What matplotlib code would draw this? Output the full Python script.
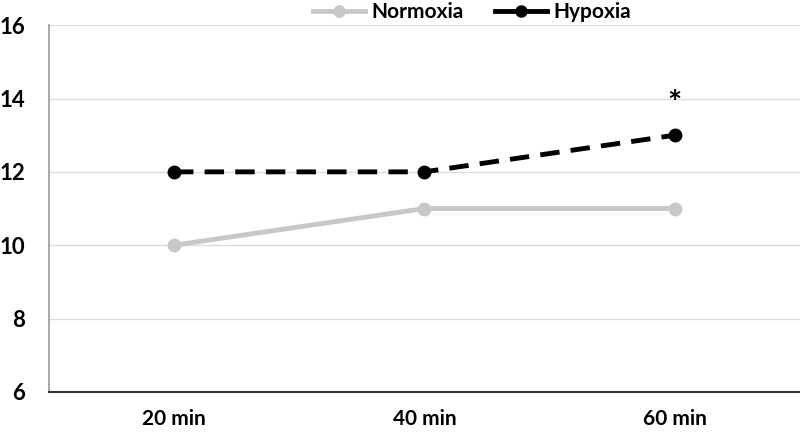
import matplotlib
matplotlib.use("Agg")
import matplotlib.pyplot as plt
from matplotlib.lines import Line2D

categories = ["20 min", "40 min", "60 min"]
normoxia = [10, 11, 11]
hypoxia = [12, 12, 13]
yticks = [6, 8, 10, 12, 14, 16]

plt.rcParams['font.family'] = ['Lato', 'DejaVu Sans']

fig = plt.figure(figsize=(8, 4.34), dpi=100)
ax = fig.add_axes([0.061, 0.097, 0.939, 0.845])
x = list(range(len(categories)))

ax.plot(x, normoxia, color='#c8c8c8', lw=3.5, marker='o', ms=9, label='Normoxia', zorder=3)
ax.plot(x, hypoxia, color='black', lw=3.5, ls=(0, (4, 2.3)), marker='o', ms=9, label='Hypoxia', zorder=4)
ax.text(2, 13.85, '*', ha='center', va='center', fontsize=24, fontweight='bold')

ax.set_xlim(-0.5, 2.5)
ax.set_ylim(6, 16)
ax.set_yticks(yticks)
ax.set_xticks(x)
ax.set_xticklabels(categories)
ax.grid(axis='y', color='#dcdcdc', lw=1)
ax.set_axisbelow(True)
for s in ['top', 'right']:
    ax.spines[s].set_visible(False)
ax.spines['left'].set_color('#9a9a9a')
ax.spines['left'].set_linewidth(1.2)
ax.spines['bottom'].set_color('#333333')
ax.spines['bottom'].set_linewidth(1.5)
ax.tick_params(axis='both', length=0, labelsize=15)
ax.tick_params(axis='y', pad=17, labelsize=16)
ax.tick_params(axis='x', pad=12)
for lab in ax.get_xticklabels() + ax.get_yticklabels():
    lab.set_fontweight('bold')

handles = [Line2D([0], [0], color='#c8c8c8', lw=3.5, marker='o', ms=8),
           Line2D([0], [0], color='black', lw=3.5, marker='o', ms=8)]
leg = fig.legend(handles, ['Normoxia', 'Hypoxia'], loc='center', bbox_to_anchor=(0.59, 0.972),
                 ncol=2, frameon=False, prop={'weight': 'bold', 'size': 15},
                 handlelength=2.5, columnspacing=1.5, handletextpad=0.3,
                 borderaxespad=0, borderpad=0)

fig.savefig('out.png', dpi=100)
